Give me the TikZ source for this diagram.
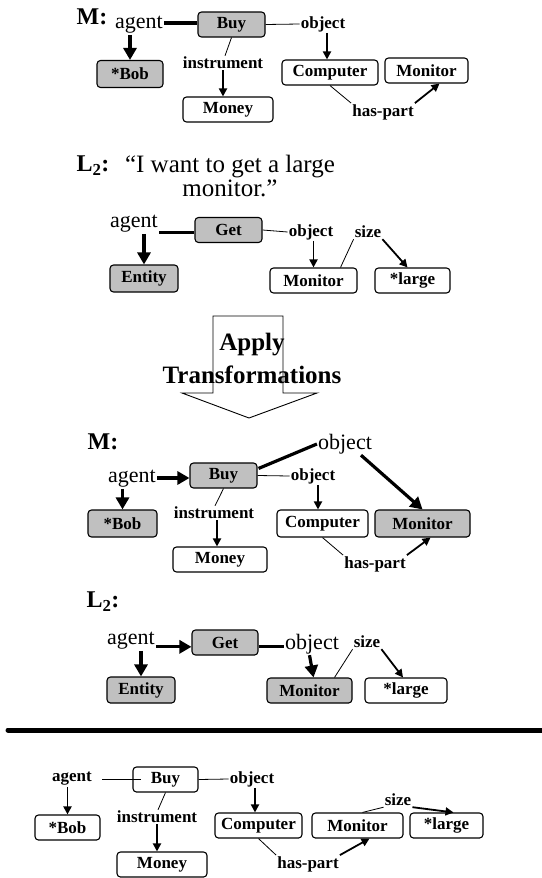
\documentclass[tikz,border=0pt]{standalone}
\usepackage{fontspec}
\setmainfont{Liberation Serif}
\usetikzlibrary{arrows.meta,calc}
\definecolor{boxgray}{RGB}{192,192,192}
\newcommand\fLbl{\bfseries\fontsize{17}{19}\selectfont}
\newcommand\fRel{\fontsize{22}{24}\selectfont}
\newcommand\fHead{\bfseries\fontsize{24}{26}\selectfont}
\newcommand\fQuote{\fontsize{25}{22}\selectfont}
\newcommand\fApply{\bfseries\fontsize{25}{33}\selectfont}
\begin{document}
\begin{tikzpicture}[x=1pt,y=-1pt,
  box/.style={draw, line width=1.1pt, rounded corners=3.5pt, minimum height=25pt, inner sep=0pt, font=\fLbl},
  gbox/.style={box, fill=boxgray},
  lbl/.style={inner sep=1pt, font=\fLbl},
  rel/.style={inner sep=1pt, font=\fRel},
  head/.style={inner sep=0pt, font=\fHead},
  conn/.style={line width=0.8pt},
  med/.style={line width=1.8pt, -{Triangle[length=8pt,width=8pt]}},
  thk/.style={line width=3.2pt, -{Triangle[length=12pt,width=13pt]}},
  thkline/.style={line width=3.2pt}]
\useasboundingbox (0,0) rectangle (541,878);

% ---------- Section 1: M ----------
\node[head] (M1) at (92,17) {M:};
\node[rel] (agent1) at (139,25) {agent};
\node[gbox, minimum width=67pt] (Buy1) at (231.5,24.5) {Buy};
\node[lbl] (object1) at (323,24) {object};
\node[gbox, minimum width=66pt, minimum height=27pt] (Bob1) at (130,74) {*Bob};
\node[lbl] (instr1) at (223,63) {instrument};
\node[box, minimum width=90pt] (Money1) at (228,109.5) {Money};
\node[box, minimum width=96pt] (Comp1) at (330,72.5) {Computer};
\node[box, minimum width=83pt] (Mon1) at (426.5,70.5) {Monitor};
\node[lbl] (hasp1) at (383,112) {has-part};
\draw[thkline] ([yshift=2pt]agent1.east) -- ([yshift=2pt]agent1.east -| Buy1.west);
\draw[conn] (Buy1.east) -- (object1.west);
\draw[thk] (agent1.south -| Bob1.north) -- (Bob1.north);
\draw[conn] (Buy1.south) -- ([xshift=2pt]instr1.north);
\draw[med] (instr1.south) -- (instr1.south |- Money1.north);
\draw[med] ([xshift=4pt]object1.south) -- ([xshift=4pt]object1.south |- Comp1.north);
\draw[conn] (Comp1.south) -- (hasp1.north west);
\draw[med] (hasp1.north east) -- ($(Mon1.south)+(13,0)$);

% ---------- Section 2: L2 ----------
\node[head] (L2a) at (93,166) {L\textsubscript{2}:};
\node[font=\fQuote, align=center, inner sep=0pt] (quote) at (230,176) {“I want to get a large\\monitor.”};
\node[rel] (agent2) at (134,224) {agent};
\node[gbox, minimum width=67pt] (Get2) at (228.5,230) {Get};
\node[lbl] (object2) at (311,232) {object};
\node[lbl] (size2) at (368,232) {size};
\node[gbox, minimum width=68pt, minimum height=27pt] (Entity2) at (144,278.5) {Entity};
\node[box, minimum width=87pt] (Mon2) at (313.5,280.5) {Monitor};
\node[box, minimum width=75pt] (large2) at (412.5,280.5) {*large};
\draw[thkline] ([yshift=-5pt]agent2.base east) -- ([yshift=-5pt]agent2.base east -| Get2.west);
\draw[conn] (Get2.east) -- (object2.west);
\draw[thk] (agent2.south -| Entity2.north) -- (Entity2.north);
\draw[med] (object2.south -| Mon2.north) -- (Mon2.north);
\draw[conn] ($(Mon2.north)+(27,0)$) -- (size2.south west);
\draw[med] (size2.south east) -- ($(large2.north)+(-5,0)$);

% ---------- Section 3: Apply Transformations ----------
\draw[line width=0.9pt, fill=white] (213,316) -- (283,316) -- (283,393) -- (317,393) -- (249,418) -- (182,393) -- (213,393) -- cycle;
\node[font=\fApply, align=center, inner sep=0pt] (apply) at (252,358) {Apply\\Transformations};

% ---------- Section 4: M (after) ----------
\node[head] (M2) at (103,442) {M:};
\node[rel] (bigobj4) at (345,444) {object};
\node[rel] (agent4) at (132,479) {agent};
\node[gbox, minimum width=67pt] (Buy4) at (223.5,475.5) {Buy};
\node[lbl] (object4) at (313,476) {object};
\node[gbox, minimum width=69pt, minimum height=27pt] (Bob4) at (122.5,523.5) {*Bob};
\node[lbl] (instr4) at (214,513) {instrument};
\node[box, minimum width=94pt] (Money4) at (220,559.5) {Money};
\node[box, minimum width=91pt, minimum height=27pt] (Comp4) at (322.5,523.5) {Computer};
\node[gbox, minimum width=95pt, minimum height=27pt] (Mon4) at (422.5,523.5) {Monitor};
\node[lbl] (hasp4) at (375,564) {has-part};
\draw[thk] ([yshift=1pt]agent4.east) -- ([yshift=1pt]agent4.east -| Buy4.west);
\draw[thkline] ($(Buy4.north east)+(1,6)$) -- (bigobj4.west);
\draw[conn] (Buy4.east) -- (object4.west);
\draw[med] ([xshift=5pt]object4.south) -- ([xshift=5pt]object4.south |- Comp4.north);
\draw[thk] ($(bigobj4.south)+(16,0)$) -- (Mon4.north);
\draw[thk] (agent4.south -| Bob4.north) -- (Bob4.north);
\draw[conn] (Buy4.south) -- ([xshift=1pt]instr4.north);
\draw[med] ([xshift=3pt]instr4.south) -- ([xshift=3pt]instr4.south |- Money4.north);
\draw[conn] (Comp4.south) -- (hasp4.north west);
\draw[med] (hasp4.north east) -- ($(Mon4.south)+(8,0)$);

% ---------- Section 5: L2 (after) ----------
\node[head] (L2b) at (103,602) {L\textsubscript{2}:};
\node[rel] (agent5) at (131,641) {agent};
\node[gbox, minimum width=66pt] (Get5) at (225,642.5) {Get};
\node[rel] (object5) at (312,644) {object};
\node[lbl] (size5) at (367,642) {size};
\node[gbox, minimum width=68pt, minimum height=26pt] (Entity5) at (141,690) {Entity};
\node[gbox, minimum width=85pt] (Mon5) at (309.5,690.5) {Monitor};
\node[box, minimum width=82pt] (large5) at (406,690.5) {*large};
\draw[thk] ([yshift=-2pt]agent5.base east) -- ([yshift=-2pt]agent5.base east -| Get5.west);
\draw[thkline] ([yshift=-2pt]Get5.east |- agent5.base east) -- ([yshift=-2pt]agent5.base east -| object5.west);
\draw[thk] (object5.south -| Mon5.north) -- ($(Mon5.north)+(4,0)$);
\draw[thk] (agent5.south -| Entity5.north) -- (Entity5.north);
\draw[conn] ($(Mon5.north)+(25,0)$) -- (size5.south west);
\draw[med] (size5.south east) -- ($(large5.north)+(-3,0)$);

% ---------- separator ----------
\coordinate (sepL) at (8,730);
\coordinate (sepR) at (545,730);
\draw[line width=5pt, line cap=round] (sepL) -- (sepR);

% ---------- Section 6: bottom ----------
\node[lbl] (agent6) at (72,779) {agent};
\node[box, minimum width=65pt] (Buy6) at (165.5,779.5) {Buy};
\node[lbl] (object6) at (252,779) {object};
\node[box, minimum width=65pt] (Bob6) at (67.5,827.5) {*Bob};
\node[lbl] (instr6) at (157,817) {instrument};
\node[box, minimum width=90pt] (Money6) at (162,864.5) {Money};
\node[box, minimum width=87pt] (Comp6) at (258.5,825.5) {Computer};
\node[box, minimum width=91pt] (Mon6) at (357.5,825.5) {Monitor};
\node[box, minimum width=73pt] (large6) at (446.5,825.5) {*large};
\node[lbl] (size6) at (398,800) {size};
\node[lbl] (hasp6) at (308,864) {has-part};
\draw[conn] ([xshift=9pt]agent6.east) -- ([xshift=9pt]agent6.east -| Buy6.west);
\draw[conn] (Buy6.east) -- (object6.west);
\draw[med] (agent6.south -| Bob6.north) -- (Bob6.north);
\draw[conn] (Buy6.south) -- ([xshift=1pt]instr6.north);
\draw[med] (instr6.south) -- (instr6.south |- Money6.north);
\draw[med] ([xshift=3pt]object6.south) -- ([xshift=3pt]object6.south |- Comp6.north);
\draw[conn] ($(Mon6.north)+(5,0)$) -- (size6.south west);
\draw[med] (size6.south east) -- ($(large6.north)+(7,0)$);
\draw[conn] (Comp6.south) -- (hasp6.north west);
\draw[med] (hasp6.north east) -- ($(Mon6.south)+(12,0)$);
\end{tikzpicture}
\end{document}
